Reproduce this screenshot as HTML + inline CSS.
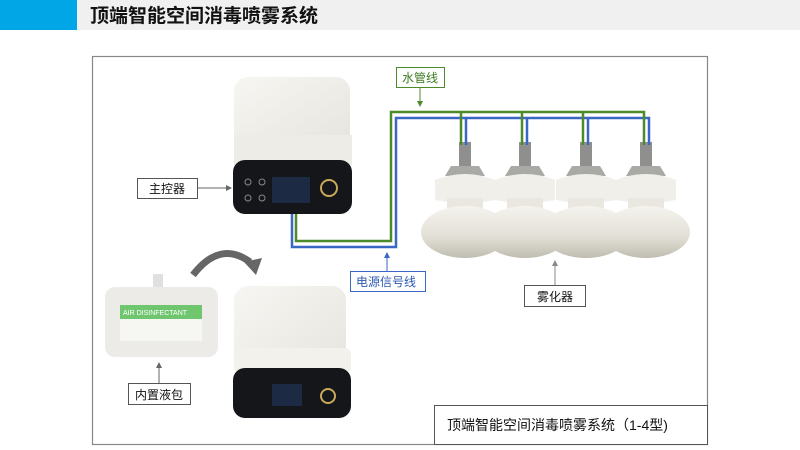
<!DOCTYPE html><html><head><meta charset="utf-8"><style>
body{margin:0;width:800px;height:450px;background:#fff;overflow:hidden;font-family:"Liberation Sans","Noto Sans CJK SC",sans-serif}
</style></head><body>
<svg width="800" height="450" viewBox="0 0 800 450" xmlns="http://www.w3.org/2000/svg" style="position:absolute;left:0;top:0">
<defs>
<linearGradient id="dome" x1="0" y1="0" x2="0" y2="1"><stop offset="0" stop-color="#f4f3ee"/><stop offset="0.6" stop-color="#e2e0d6"/><stop offset="1" stop-color="#bfbcb0"/></linearGradient>
<linearGradient id="lid" x1="0" y1="0" x2="1" y2="1"><stop offset="0" stop-color="#f7f6f2"/><stop offset="1" stop-color="#e6e4de"/></linearGradient>
<g id="atom">
<rect x="-6" y="142" width="12" height="24" fill="#8f8f8d"/>
<path d="M-14 166 L14 166 L20 176 L-20 176Z" fill="#a9a9a6"/>
<path d="M-30 180 Q0 168 30 180 L30 200 Q0 206 -30 200Z" fill="#f1efe9"/>
<rect x="-18" y="198" width="36" height="14" fill="#e9e7e0"/>
<ellipse cx="0" cy="232" rx="44" ry="26" fill="url(#dome)"/>
</g>
</defs>
<rect x="0" y="0" width="800" height="30" fill="#f0f0f0"/>
<rect x="0" y="0" width="77" height="30" fill="#00a6e6"/>
<text x="90" y="22" font-size="19" font-weight="600" fill="#111">顶端智能空间消毒喷雾系统</text>
<rect x="92.5" y="56.5" width="615" height="388" fill="none" stroke="#888" stroke-width="1.2"/>
<rect x="434.5" y="405.5" width="273" height="39" fill="#fff" stroke="#555"/>
<text x="447" y="430" font-size="14" fill="#111">顶端智能空间消毒喷雾系统（1-4型)</text>

<rect x="234" y="77" width="116" height="72" rx="14" fill="url(#lid)"/>
<rect x="234" y="135" width="118" height="30" fill="#eeece6"/>
<rect x="233" y="160" width="119" height="54" rx="12" fill="#15161a"/>
<circle cx="329" cy="188" r="8" fill="none" stroke="#c9a85a" stroke-width="2"/>
<circle cx="248" cy="182" r="3" fill="none" stroke="#888"/><circle cx="262" cy="182" r="3" fill="none" stroke="#888"/>
<circle cx="248" cy="198" r="3" fill="none" stroke="#888"/><circle cx="262" cy="198" r="3" fill="none" stroke="#888"/>
<rect x="272" y="177" width="38" height="26" fill="#1d2a44"/>

<rect x="234" y="286" width="112" height="90" rx="14" fill="url(#lid)"/>
<rect x="234" y="348" width="117" height="25" rx="6" fill="#f2f1ec"/>
<rect x="233" y="368" width="118" height="50" rx="12" fill="#15161a"/>
<circle cx="328" cy="396" r="7" fill="none" stroke="#c9a85a" stroke-width="2"/>
<rect x="272" y="384" width="30" height="22" fill="#1d2a44"/>

<rect x="153" y="274" width="10" height="14" fill="#e0e0e0"/>
<rect x="105" y="287" width="113" height="70" rx="10" fill="#ecebe7"/>
<rect x="120" y="305" width="82" height="14" fill="#6fc66f"/>
<text x="123" y="315" font-size="7" fill="#fff">AIR DISINFECTANT</text>
<rect x="120" y="319" width="82" height="22" fill="#f6f6f2"/>

<path d="M193 275 Q220 240 250 262" fill="none" stroke="#666" stroke-width="7"/>
<polygon points="244,262 262,258 256,275" fill="#666"/>

<use href="#atom" x="465"/>
<use href="#atom" x="525"/>
<use href="#atom" x="586"/>
<use href="#atom" x="646"/>

<g fill="none" stroke-width="2.5">
<path d="M292 214 V247 H396 V118 H649 V145 M466 118 V145 M527 118 V145 M588 118 V145" stroke="#3a66c4"/>
<path d="M296 214 V241 H391 V112 H644 V145 M461 112 V145 M522 112 V145 M583 112 V145" stroke="#4d8a2a"/>
</g>

<g font-size="12" fill="#111" stroke-width="1">
<rect x="137.5" y="178.5" width="60" height="20" fill="#fff" stroke="#555"/>
<text x="149" y="193">主控器</text>
<line x1="198" y1="188" x2="229" y2="188" stroke="#666"/><polygon points="232,188 226,185 226,191" fill="#666"/>
<rect x="396.5" y="67.5" width="48" height="20" fill="#fff" stroke="#4d8a2a"/>
<text x="402" y="82" fill="#3d7a20">水管线</text>
<line x1="420" y1="88" x2="420" y2="103" stroke="#4d8a2a"/><polygon points="420,107 417,101 423,101" fill="#4d8a2a"/>
<rect x="350.5" y="271.5" width="75" height="20" fill="#fff" stroke="#3a66c4"/>
<text x="356" y="286" fill="#2d58b0">电源信号线</text>
<line x1="387" y1="271" x2="387" y2="256" stroke="#3a66c4"/><polygon points="387,252 384,258 390,258" fill="#3a66c4"/>
<rect x="524.5" y="285.5" width="61" height="21" fill="#fff" stroke="#555"/>
<text x="537" y="301">雾化器</text>
<line x1="555" y1="285" x2="555" y2="264" stroke="#888"/><polygon points="555,260 552,266 558,266" fill="#888"/>
<rect x="128.5" y="383.5" width="62" height="21" fill="#fff" stroke="#555"/>
<text x="135" y="399">内置液包</text>
<line x1="159" y1="383" x2="159" y2="366" stroke="#666"/><polygon points="159,362 156,368 162,368" fill="#666"/>
</g>
</svg>
</body></html>
